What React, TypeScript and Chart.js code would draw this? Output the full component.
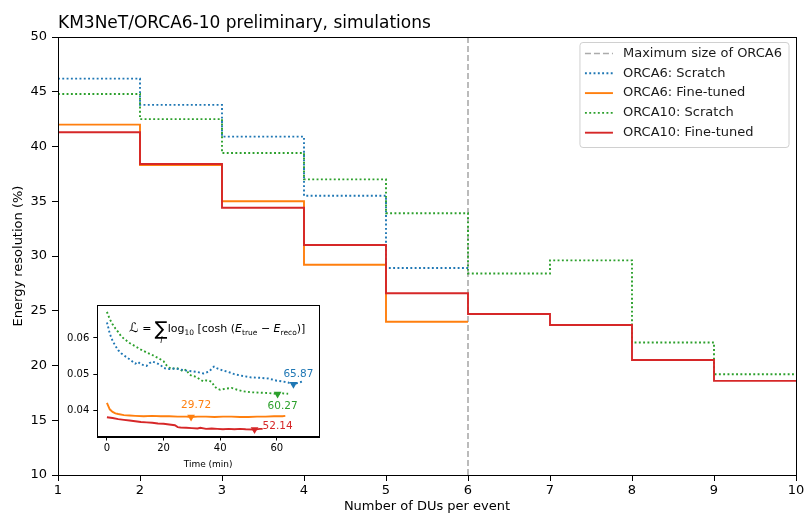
import React, { useEffect, useRef } from "react";
import { Chart, registerables } from "chart.js";

Chart.register(...registerables);

const FONT = '"DejaVu Sans", "Liberation Sans", sans-serif';

// ---------- Main chart data ----------
const duEdges = [1, 2, 3, 4, 5, 6, 7, 8, 9, 10];
const orca6Scratch = [46.2, 43.8, 40.9, 35.5, 28.9];
const orca6FineTuned = [42.0, 38.3, 35.0, 29.2, 24.0];
const orca10Scratch = [44.8, 42.5, 39.4, 37.0, 33.9, 28.4, 29.6, 22.1, 19.2];
const orca10FineTuned = [41.3, 38.4, 34.4, 31.0, 26.6, 24.7, 23.7, 20.5, 18.6];
const orca6MaxDUs = 6;
const yRange = [10, 50];
const xTicks = [1, 2, 3, 4, 5, 6, 7, 8, 9, 10];
const yTicks = [10, 15, 20, 25, 30, 35, 40, 45, 50];
const seriesLabels = [
  "Maximum size of ORCA6",
  "ORCA6: Scratch",
  "ORCA6: Fine-tuned",
  "ORCA10: Scratch",
  "ORCA10: Fine-tuned",
];
const titleText = "KM3NeT/ORCA6-10 preliminary, simulations";
const xLabel = "Number of DUs per event";
const yLabel = "Energy resolution (%)";

// ---------- Inset data (loss vs training time) ----------
const insetXRange = [-3.4, 74.9];
const insetYRange = [0.0328, 0.0691];
const insetXTicks = [0, 20, 40, 60];
const insetYTicks = [0.04, 0.05, 0.06];
const insetXLabel = "Time (min)";

const o6ScratchTime = [0, 0.5, 1, 2, 3, 4, 5, 6, 8, 10, 11, 12, 14, 15, 16, 17.5, 19, 20, 22, 24, 26, 28, 30, 32, 34, 36, 37.8, 39, 41, 43, 45, 48, 51, 54, 57, 60, 62, 64, 65.87, 67.5, 69.5];
const o6ScratchLoss = [0.0643, 0.0628, 0.0612, 0.0592, 0.0578, 0.0566, 0.0558, 0.0552, 0.0541, 0.0529, 0.0534, 0.0527, 0.0523, 0.053, 0.0535, 0.0531, 0.0525, 0.0517, 0.0514, 0.0516, 0.0513, 0.051, 0.0508, 0.0506, 0.0502, 0.0507, 0.0521, 0.0516, 0.051, 0.0506, 0.05, 0.0495, 0.0491, 0.049, 0.0488, 0.0482, 0.048, 0.0477, 0.0472, 0.0476, 0.0481];

const o10ScratchTime = [0, 0.5, 1, 2, 3, 4, 5, 6, 8, 10, 12, 14, 16, 18, 20, 21, 22, 23, 24, 25, 26, 27, 28, 29, 30, 31, 32, 34, 35, 36, 37, 38, 39, 40, 42, 44, 46, 48, 51, 54, 57, 60.27, 62, 64];
const o10ScratchLoss = [0.0672, 0.0662, 0.0652, 0.0638, 0.0626, 0.0616, 0.0605, 0.0598, 0.0586, 0.0577, 0.0568, 0.056, 0.0553, 0.0545, 0.0536, 0.0525, 0.0518, 0.0514, 0.0517, 0.0516, 0.0512, 0.0508, 0.0513, 0.05, 0.0495, 0.0494, 0.049, 0.048, 0.0483, 0.0482, 0.0479, 0.0466, 0.046, 0.0457, 0.046, 0.0462, 0.0457, 0.0453, 0.045, 0.0449, 0.0448, 0.0445, 0.0447, 0.0446];

const o6FineTime = [0, 0.5, 1, 2, 3, 4, 6, 8, 10, 13, 16, 19, 22, 25, 28, 29.72, 32, 35, 38, 41, 44, 47, 50, 53, 56, 59, 62, 63];
const o6FineLoss = [0.0421, 0.0412, 0.0403, 0.0396, 0.0392, 0.039, 0.0387, 0.0386, 0.0385, 0.0384, 0.0385, 0.0384, 0.0384, 0.0383, 0.0383, 0.0382, 0.0383, 0.0383, 0.0382, 0.0383, 0.0383, 0.0382, 0.0382, 0.0383, 0.0383, 0.0384, 0.0384, 0.0385];

const o10FineTime = [0, 2, 4, 6, 8, 10, 12, 14, 16, 18, 20, 22, 24, 25, 26, 28, 30, 32, 33, 35, 37, 39, 41, 43, 45, 47, 49, 52.14, 54, 55];
const o10FineLoss = [0.0381, 0.0379, 0.0376, 0.0374, 0.0372, 0.037, 0.0368, 0.0367, 0.0366, 0.0364, 0.0363, 0.0361, 0.0359, 0.0354, 0.0353, 0.0352, 0.0351, 0.035, 0.0352, 0.0349, 0.035, 0.0349, 0.0348, 0.0349, 0.0348, 0.0349, 0.0348, 0.0347, 0.0349, 0.0349];

// best-model times (min)
const bestTimes = [65.87, 29.72, 60.27, 52.14]; // o6 scratch, o6 fine, o10 scratch, o10 fine

const C_BLUE = "#1f77b4";
const C_ORANGE = "#ff7f0e";
const C_GREEN = "#2ca02c";
const C_RED = "#d62728";
const C_GRAY = "#ababab";
const LW = 1.9;
const DOT = [1.9, 2.4];

const stepData = (vals: number[]) => [
  ...vals.map((v, i) => ({ x: duEdges[i], y: v })),
  { x: duEdges[vals.length], y: vals[vals.length - 1] },
];

const curve = (t: number[], l: number[]) => t.map((x, i) => ({ x, y: l[i] }));
const bestPoint = (t: number[], l: number[], bt: number) => {
  const i = t.indexOf(bt);
  return { x: bt, y: l[i] };
};

const mainPlugin = {
  id: "mainDecor",
  afterDraw(chart: any) {
    const { ctx, chartArea } = chart;
    const a = chartArea;
    ctx.save();
    ctx.strokeStyle = "#000";
    ctx.lineWidth = 1;
    ctx.strokeRect(Math.round(a.left) + 0.5, Math.round(a.top) + 0.5, Math.round(a.right - a.left), Math.round(a.bottom - a.top));
    ctx.fillStyle = "#000";
    ctx.font = `17px ${FONT}`;
    ctx.textAlign = "left";
    ctx.textBaseline = "alphabetic";
    ctx.fillText(titleText, a.left, 28);
    ctx.font = `13px ${FONT}`;
    ctx.textAlign = "center";
    ctx.textBaseline = "middle";
    ctx.fillText(xLabel, (a.left + a.right) / 2, 507);
    ctx.save();
    ctx.translate(19, (a.top + a.bottom) / 2);
    ctx.rotate(-Math.PI / 2);
    ctx.fillText(yLabel, 0, 0);
    ctx.restore();

    // legend
    const ds = chart.data.datasets;
    const rowH = 19.8;
    ctx.font = `13px ${FONT}`;
    let maxW = 0;
    ds.forEach((d: any) => (maxW = Math.max(maxW, ctx.measureText(d.label).width)));
    const sample = 28;
    const w = 5 + sample + 10 + maxW + 7;
    const h = rowH * ds.length + 6;
    const x0 = a.right - 7 - w;
    const y0 = a.top + 5.5;
    ctx.beginPath();
    const r = 3;
    ctx.moveTo(x0 + r, y0);
    ctx.lineTo(x0 + w - r, y0);
    ctx.quadraticCurveTo(x0 + w, y0, x0 + w, y0 + r);
    ctx.lineTo(x0 + w, y0 + h - r);
    ctx.quadraticCurveTo(x0 + w, y0 + h, x0 + w - r, y0 + h);
    ctx.lineTo(x0 + r, y0 + h);
    ctx.quadraticCurveTo(x0, y0 + h, x0, y0 + h - r);
    ctx.lineTo(x0, y0 + r);
    ctx.quadraticCurveTo(x0, y0, x0 + r, y0);
    ctx.closePath();
    ctx.fillStyle = "rgba(255,255,255,0.85)";
    ctx.fill();
    ctx.strokeStyle = "#d0d0d0";
    ctx.lineWidth = 1;
    ctx.stroke();
    ds.forEach((d: any, i: number) => {
      const cy = y0 + 11 + i * rowH;
      ctx.beginPath();
      ctx.strokeStyle = d.borderColor;
      ctx.lineWidth = d.borderWidth;
      ctx.setLineDash(d.borderDash || []);
      ctx.moveTo(x0 + 5, cy);
      ctx.lineTo(x0 + 5 + sample, cy);
      ctx.stroke();
      ctx.setLineDash([]);
      ctx.fillStyle = "#1a1a1a";
      ctx.textAlign = "left";
      ctx.textBaseline = "middle";
      ctx.fillText(d.label, x0 + 5 + sample + 10, cy);
    });
    ctx.restore();
  },
};

type Piece = { t: string; size: number; italic?: boolean; dy?: number; under?: boolean };
const formula: Piece[] = [
  { t: "ℒ", size: 13 },
  { t: " = ", size: 11 },
  { t: "∑", size: 19, dy: 3 },
  { t: "i", size: 8, italic: true, dy: 11, under: true },
  { t: "log", size: 11 },
  { t: "10", size: 7.5, dy: 3 },
  { t: " [cosh (", size: 11 },
  { t: "E", size: 11, italic: true },
  { t: "true", size: 7.5, dy: 3 },
  { t: " − ", size: 11 },
  { t: "E", size: 11, italic: true },
  { t: "reco", size: 7.5, dy: 3 },
  { t: ")]", size: 11 },
];

function drawRich(ctx: CanvasRenderingContext2D, x: number, y: number, pieces: Piece[]) {
  let cx = x;
  let lastX = x;
  let lastW = 0;
  ctx.textBaseline = "alphabetic";
  for (const p of pieces) {
    ctx.font = `${p.italic ? "italic " : ""}${p.size}px ${FONT}`;
    const w = ctx.measureText(p.t).width;
    if (p.under) {
      ctx.textAlign = "center";
      ctx.fillText(p.t, lastX + lastW / 2, y + (p.dy || 0));
      ctx.textAlign = "left";
      continue;
    }
    ctx.textAlign = "left";
    ctx.fillText(p.t, cx, y + (p.dy || 0));
    lastX = cx;
    lastW = w;
    cx += w;
  }
}

// label placement for best markers (style only)
const markerLabelStyle = [
  { dx: 5, dy: -10, align: "center" },
  { dx: 5, dy: -12, align: "center" },
  { dx: 5, dy: 12, align: "center" },
  { dx: 8, dy: -3, align: "left" },
];

const insetPlugin = {
  id: "insetDecor",
  beforeDraw(chart: any) {
    const { ctx, chartArea: a } = chart;
    ctx.save();
    ctx.fillStyle = "#fff";
    ctx.fillRect(a.left, a.top, a.right - a.left, a.bottom - a.top);
    ctx.restore();
  },
  afterDraw(chart: any) {
    const { ctx, chartArea: a } = chart;
    ctx.save();
    ctx.strokeStyle = "#000";
    ctx.lineWidth = 1;
    ctx.strokeRect(Math.round(a.left) + 0.5, Math.round(a.top) + 0.5, Math.round(a.right - a.left), Math.round(a.bottom - a.top));
    ctx.fillStyle = "#000";
    drawRich(ctx, a.left + 32, a.top + 27, formula);
    ctx.font = `9px ${FONT}`;
    ctx.textAlign = "center";
    ctx.textBaseline = "middle";
    ctx.fillText(insetXLabel, (a.left + a.right) / 2, a.bottom + 28);
    const xs = chart.scales.x;
    const ys = chart.scales.y;
    const markers = chart.data.datasets.slice(4);
    markers.forEach((d: any, i: number) => {
      const p = d.data[0];
      const st = markerLabelStyle[i];
      ctx.fillStyle = d.backgroundColor;
      ctx.font = `10.5px ${FONT}`;
      ctx.textAlign = st.align;
      ctx.textBaseline = "middle";
      ctx.fillText(p.x.toFixed(2), xs.getPixelForValue(p.x) + st.dx, ys.getPixelForValue(p.y) + st.dy);
    });
    ctx.restore();
  },
};

function mainConfig(): any {
  const base = { pointRadius: 0, fill: false, stepped: "before" };
  return {
    type: "line",
    data: {
      datasets: [
        { label: seriesLabels[0], data: [{ x: orca6MaxDUs, y: yRange[0] }, { x: orca6MaxDUs, y: yRange[1] }], borderColor: C_GRAY, borderDash: [6, 3], borderWidth: 1.6, pointRadius: 0, order: 4 },
        { ...base, label: seriesLabels[1], data: stepData(orca6Scratch), borderColor: C_BLUE, borderDash: DOT, borderWidth: LW, order: 3 },
        { ...base, label: seriesLabels[2], data: stepData(orca6FineTuned), borderColor: C_ORANGE, borderWidth: LW, order: 2 },
        { ...base, label: seriesLabels[3], data: stepData(orca10Scratch), borderColor: C_GREEN, borderDash: DOT, borderWidth: LW, order: 1 },
        { ...base, label: seriesLabels[4], data: stepData(orca10FineTuned), borderColor: C_RED, borderWidth: LW, order: 0 },
      ],
    },
    options: {
      animation: false,
      responsive: false,
      devicePixelRatio: 1,
      layout: { padding: { left: 0, top: 37, right: 8, bottom: 0 } },
      plugins: { legend: { display: false }, tooltip: { enabled: false }, title: { display: false } },
      scales: {
        x: {
          type: "linear",
          min: duEdges[0],
          max: duEdges[duEdges.length - 1],
          afterBuildTicks: (s: any) => { s.ticks = xTicks.map((v) => ({ value: v })); },
          afterFit: (s: any) => { s.height = 40; s.paddingRight = 0; s.paddingLeft = 0; },
          grid: { drawOnChartArea: false, drawTicks: true, tickLength: 6, color: "#000" },
          border: { display: true, color: "#000", width: 1 },
          ticks: { color: "#000", font: { family: FONT, size: 13 }, padding: 2, maxRotation: 0, autoSkip: false, callback: (v: any) => String(v) },
        },
        y: {
          type: "linear",
          min: yRange[0],
          max: yRange[1],
          afterBuildTicks: (s: any) => { s.ticks = yTicks.map((v) => ({ value: v })); },
          afterFit: (s: any) => { s.width = 58; },
          grid: { drawOnChartArea: false, drawTicks: true, tickLength: 6, color: "#000" },
          border: { display: true, color: "#000", width: 1 },
          ticks: { color: "#000", font: { family: FONT, size: 13 }, padding: 5, autoSkip: false, callback: (v: any) => String(v) },
        },
      },
    },
    plugins: [mainPlugin],
  };
}

function insetConfig(): any {
  const lineBase = { pointRadius: 0, fill: false, borderWidth: LW };
  const mk = (p: any, color: string) => ({
    type: "scatter",
    data: [p],
    pointStyle: "triangle",
    rotation: 180,
    pointRadius: 4.5,
    backgroundColor: color,
    borderColor: color,
    borderWidth: 0,
    showLine: false,
  });
  return {
    type: "line",
    data: {
      datasets: [
        { ...lineBase, label: seriesLabels[1], data: curve(o6ScratchTime, o6ScratchLoss), borderColor: C_BLUE, borderDash: DOT },
        { ...lineBase, label: seriesLabels[2], data: curve(o6FineTime, o6FineLoss), borderColor: C_ORANGE },
        { ...lineBase, label: seriesLabels[3], data: curve(o10ScratchTime, o10ScratchLoss), borderColor: C_GREEN, borderDash: DOT },
        { ...lineBase, label: seriesLabels[4], data: curve(o10FineTime, o10FineLoss), borderColor: C_RED },
        mk(bestPoint(o6ScratchTime, o6ScratchLoss, bestTimes[0]), C_BLUE),
        mk(bestPoint(o6FineTime, o6FineLoss, bestTimes[1]), C_ORANGE),
        mk(bestPoint(o10ScratchTime, o10ScratchLoss, bestTimes[2]), C_GREEN),
        mk(bestPoint(o10FineTime, o10FineLoss, bestTimes[3]), C_RED),
      ],
    },
    options: {
      animation: false,
      responsive: false,
      devicePixelRatio: 1,
      layout: { padding: { left: 0, top: 8, right: 11, bottom: 0 } },
      plugins: { legend: { display: false }, tooltip: { enabled: false } },
      scales: {
        x: {
          type: "linear",
          min: insetXRange[0],
          max: insetXRange[1],
          afterBuildTicks: (s: any) => { s.ticks = insetXTicks.map((v) => ({ value: v })); },
          afterFit: (s: any) => { s.height = 33.5; },
          grid: { drawOnChartArea: false, drawTicks: true, tickLength: 4, color: "#000" },
          border: { display: true, color: "#000", width: 1 },
          ticks: { color: "#000", font: { family: FONT, size: 10 }, padding: 2, maxRotation: 0, autoSkip: false, callback: (v: any) => String(v) },
        },
        y: {
          type: "linear",
          min: insetYRange[0],
          max: insetYRange[1],
          afterBuildTicks: (s: any) => { s.ticks = insetYTicks.map((v) => ({ value: v })); },
          afterFit: (s: any) => { s.width = 57.3; },
          grid: { drawOnChartArea: false, drawTicks: true, tickLength: 4, color: "#000" },
          border: { display: true, color: "#000", width: 1 },
          ticks: { color: "#000", font: { family: FONT, size: 10 }, padding: 4, autoSkip: false, callback: (v: any) => Number(v).toFixed(2) },
        },
      },
    },
    plugins: [insetPlugin],
  };
}

export default function App() {
  const mainRef = useRef<HTMLCanvasElement>(null);
  const insetRef = useRef<HTMLCanvasElement>(null);
  useEffect(() => {
    const main = new Chart(mainRef.current as HTMLCanvasElement, mainConfig());
    const inset = new Chart(insetRef.current as HTMLCanvasElement, insetConfig());
    return () => {
      main.destroy();
      inset.destroy();
    };
  }, []);
  return (
    <div style={{ position: "fixed", left: 0, top: 0, width: 804, height: 515, background: "#fff" }}>
      <canvas ref={mainRef} width={804} height={515} style={{ position: "absolute", left: 0, top: 0, width: 804, height: 515 }} />
      <canvas ref={insetRef} width={290} height={175} style={{ position: "absolute", left: 40, top: 295, width: 290, height: 175 }} />
    </div>
  );
}
